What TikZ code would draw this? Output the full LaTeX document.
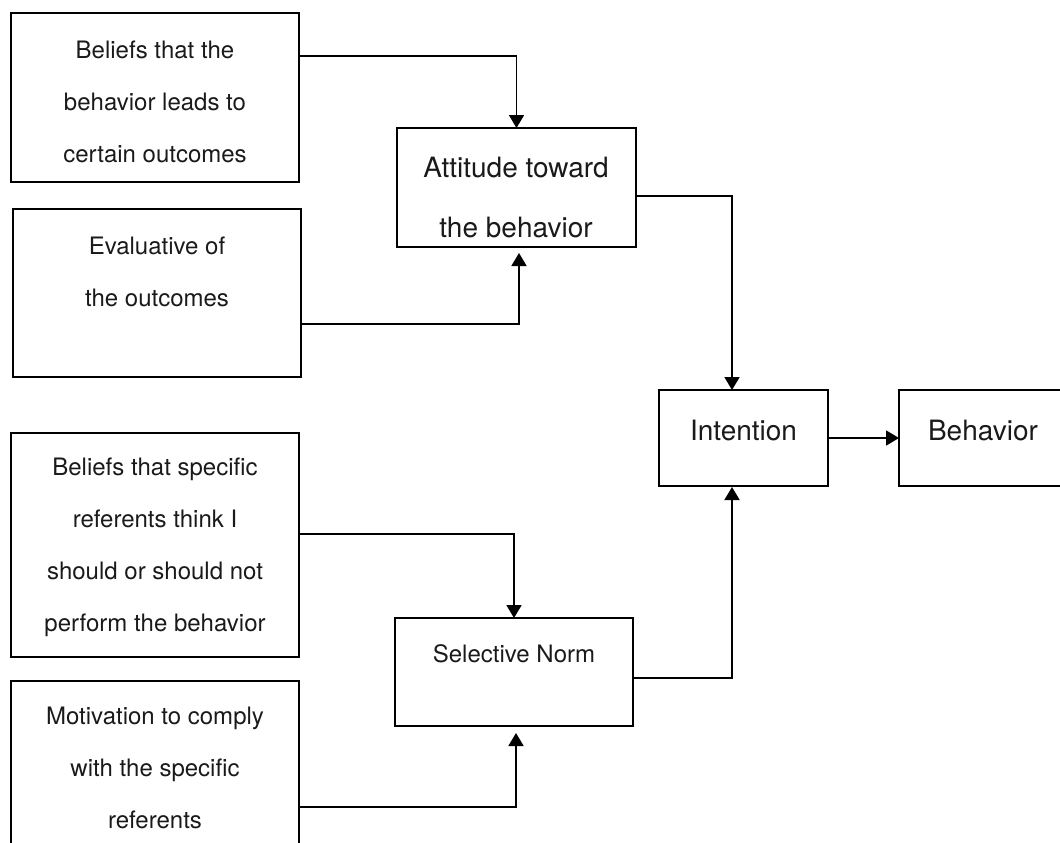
\documentclass[tikz,border=0pt]{standalone}
\usepackage{fontspec}
\setmainfont{TeX Gyre Heros}
\usetikzlibrary{arrows.meta,calc}
\definecolor{ink}{HTML}{1A1A1A}
\tikzset{
  box/.style={draw=black, line width=1.8pt, inner sep=0pt, outer sep=0pt},
  small/.style={inner sep=0pt, align=center, text=ink, font=\fontsize{24}{52}\selectfont},
  big/.style={inner sep=0pt, align=center, text=ink, font=\fontsize{28}{60}\selectfont},
  link/.style={draw=black, line width=1.8pt},
  arr/.style={link, -{Triangle[length=13pt,width=15pt]}}
}
\begin{document}
\begin{tikzpicture}[x=1pt,y=-1pt]
\useasboundingbox (0,0) rectangle (1060,843);
\clip (0,0) rectangle (1060,843);
% boxes
\node[box, minimum width=288, minimum height=169] (b1) at (155,97.5) {};
\node[box, minimum width=239, minimum height=119] (att) at (516.5,187.5) {};
\node[box, minimum width=288, minimum height=168] (b2) at (157,293) {};
\node[box, minimum width=169, minimum height=96] (int) at (743.5,438) {};
\node[box, minimum width=169, minimum height=96] (beh) at (983.5,438) {};
\node[box, minimum width=288, minimum height=224] (b3) at (155,545) {};
\node[box, minimum width=238, minimum height=108] (sn) at (514,672) {};
\node[box, minimum width=288, minimum height=189] (b4) at (155,775.5) {};
% texts
\node[small] (t1) at (155,102) {Beliefs that the\\behavior leads to\\certain outcomes};
\node[small] (t2) at (157,272) {Evaluative of\\the outcomes};
\node[small] (t3) at (155,547.5) {Beliefs that specific\\referents think I\\should or should not\\perform the behavior};
\node[small] (t4) at (155,768) {Motivation to comply\\with the specific\\referents};
\node[big] (tatt) at (516,198) {Attitude toward\\the behavior};
\node[big] (tint) at (743.5,430) {Intention};
\node[big] (tbeh) at (983,430) {Behavior};
\node[small] (tsn) at (514,654) {Selective Norm};
% connectors
\draw[arr] ($(b1.north east)+(0,43)$) -| (att.north);
\draw[arr] ($(b2.north east)+(0,115)$) -| ($(att.south)+(2.5,6)$);
\draw[arr] ($(att.north east)+(0,68)$) -| ($(int.north)+(-11.5,0)$);
\draw[arr] ($(int.north east)+(0,48)$) -- ($(beh.north west)+(0,48)$);
\draw[arr] ($(sn.north east)+(0,60)$) -| ($(int.south)+(-11.5,1)$);
\draw[arr] ($(b3.north east)+(0,101)$) -| (sn.north);
\draw[arr] ($(b4.north east)+(0,126)$) -| ($(sn.south)+(2,7)$);
\end{tikzpicture}
\end{document}
